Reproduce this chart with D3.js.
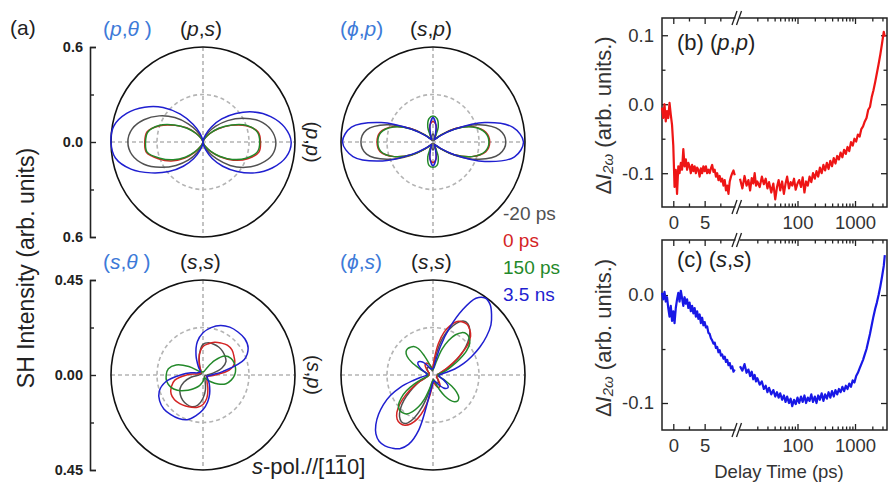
<!DOCTYPE html>
<html><head><meta charset="utf-8">
<script src="https://cdn.jsdelivr.net/npm/d3@7"></script>
<style>
body{margin:0;background:#fff}
svg{display:block}
text{font-family:'Liberation Sans',Arial,Helvetica,sans-serif}
</style></head>
<body><svg id="c" width="888" height="484"></svg>
<script>
// ---------------- DATA ----------------
const seriesLabels = ["-20 ps", "0 ps", "150 ps", "3.5 ns"];
// polar radii, evenly spaced in angle (counter-clockwise from 0°)
// (p,θ) panel, 10° steps
const pTheta_m20 = [0.475,0.45,0.39,0.3,0.21,0.13,0.07,0.025,0.005,0,0.005,0.03,0.08,0.15,0.24,0.33,0.41,0.47,0.49,0.47,0.41,0.32,0.23,0.15,0.08,0.03,0.005,0,0.005,0.03,0.075,0.14,0.23,0.32,0.4,0.46];
const pTheta_0 = [0.375,0.365,0.3,0.21,0.13,0.07,0.03,0.01,0,0,0,0.01,0.03,0.075,0.14,0.21,0.3,0.37,0.38,0.375,0.31,0.24,0.16,0.085,0.035,0.01,0,0,0,0.01,0.035,0.08,0.145,0.23,0.31,0.37];
const pTheta_150 = [0.37,0.36,0.305,0.215,0.135,0.07,0.03,0.01,0,0,0,0.01,0.03,0.07,0.135,0.215,0.305,0.365,0.375,0.37,0.3,0.225,0.15,0.08,0.035,0.01,0,0,0,0.01,0.035,0.075,0.14,0.22,0.3,0.36];
const pTheta_3500 = [0.575,0.54,0.47,0.38,0.28,0.19,0.11,0.05,0.015,0,0.015,0.06,0.13,0.23,0.34,0.44,0.53,0.59,0.6,0.58,0.5,0.39,0.29,0.2,0.12,0.055,0.015,0,0.015,0.055,0.12,0.2,0.29,0.39,0.48,0.55];
// (ϕ,p) panel, 10° steps
const phiP_m20 = [0.475,0.44,0.32,0.17,0.07,0.025,0.01,0.02,0.04,0.05,0.04,0.02,0.01,0.025,0.07,0.17,0.32,0.44,0.47,0.44,0.32,0.17,0.07,0.025,0.01,0.02,0.04,0.05,0.04,0.02,0.01,0.025,0.07,0.17,0.32,0.44];
const phiP_0 = [0.37,0.35,0.28,0.17,0.07,0.03,0.025,0.06,0.11,0.13,0.11,0.06,0.025,0.03,0.07,0.17,0.28,0.35,0.365,0.35,0.27,0.16,0.065,0.03,0.025,0.06,0.11,0.13,0.11,0.06,0.025,0.03,0.065,0.16,0.27,0.35];
const phiP_150 = [0.365,0.345,0.275,0.165,0.07,0.03,0.03,0.1,0.15,0.165,0.15,0.1,0.03,0.03,0.07,0.165,0.275,0.345,0.36,0.345,0.27,0.16,0.065,0.03,0.03,0.1,0.15,0.16,0.15,0.1,0.03,0.03,0.065,0.16,0.27,0.345];
const phiP_3500 = [0.59,0.53,0.36,0.16,0.06,0.025,0.02,0.045,0.11,0.155,0.11,0.045,0.02,0.025,0.06,0.16,0.36,0.54,0.59,0.53,0.35,0.15,0.055,0.025,0.02,0.045,0.11,0.15,0.11,0.045,0.02,0.025,0.06,0.16,0.36,0.54];
// (s,θ) panel, 10° steps
const sTheta_m20 = [0.02,0.05,0.1,0.13,0.14,0.148,0.153,0.155,0.155,0.145,0.1,0.05,0.02,0.01,0.01,0.01,0.01,0.015,0.02,0.06,0.1,0.13,0.145,0.155,0.16,0.16,0.145,0.11,0.07,0.03,0.015,0.01,0.01,0.01,0.01,0.015];
const sTheta_0 = [0.06,0.13,0.165,0.175,0.185,0.185,0.175,0.165,0.15,0.135,0.1,0.05,0.02,0.015,0.015,0.015,0.02,0.03,0.08,0.14,0.165,0.18,0.182,0.177,0.17,0.163,0.155,0.14,0.11,0.07,0.04,0.03,0.025,0.02,0.02,0.03];
const sTheta_150 = [0.155,0.162,0.163,0.158,0.14,0.09,0.04,0.02,0.015,0.015,0.015,0.015,0.02,0.02,0.03,0.08,0.14,0.172,0.18,0.18,0.168,0.145,0.115,0.09,0.07,0.055,0.04,0.03,0.02,0.015,0.015,0.025,0.05,0.085,0.12,0.14];
const sTheta_3500 = [0.04,0.1,0.215,0.255,0.267,0.266,0.262,0.25,0.228,0.2,0.16,0.1,0.045,0.02,0.02,0.025,0.03,0.06,0.11,0.185,0.228,0.245,0.25,0.245,0.238,0.225,0.195,0.165,0.13,0.095,0.065,0.045,0.03,0.025,0.02,0.025];
// (ϕ,s) panel, 5° steps
const phiS_m20 = [0.02,0.02,0.025,0.035,0.05,0.08,0.12,0.165,0.21,0.25,0.28,0.297,0.295,0.27,0.23,0.18,0.11,0.05,
  0.025,0.02,0.02,0.025,0.03,0.035,0.04,0.045,0.045,0.04,0.035,0.03,0.025,0.02,0.02,0.02,0.02,0.02,
  0.02,0.02,0.025,0.03,0.04,0.07,0.1,0.14,0.185,0.225,0.255,0.27,0.265,0.23,0.17,0.1,0.05,0.03,
  0.025,0.02,0.025,0.03,0.035,0.04,0.045,0.045,0.04,0.035,0.03,0.025,0.02,0.02,0.02,0.02,0.02,0.02];
const phiS_0 = [0.025,0.025,0.03,0.035,0.045,0.07,0.11,0.16,0.22,0.26,0.28,0.292,0.29,0.28,0.25,0.21,0.15,0.08,
  0.04,0.03,0.035,0.045,0.055,0.06,0.065,0.065,0.06,0.05,0.04,0.03,0.025,0.02,0.02,0.02,0.02,0.02,
  0.02,0.02,0.025,0.03,0.04,0.07,0.11,0.16,0.21,0.25,0.273,0.28,0.275,0.255,0.22,0.17,0.11,0.06,
  0.04,0.035,0.04,0.05,0.06,0.065,0.065,0.06,0.05,0.04,0.03,0.025,0.02,0.02,0.02,0.02,0.02,0.025];
const phiS_150 = [0.025,0.025,0.03,0.05,0.075,0.105,0.15,0.2,0.235,0.25,0.255,0.245,0.22,0.18,0.13,0.07,0.04,0.03,
  0.025,0.025,0.03,0.04,0.06,0.1,0.145,0.165,0.172,0.176,0.172,0.155,0.12,0.075,0.045,0.03,0.025,0.025,
  0.025,0.025,0.025,0.03,0.06,0.1,0.15,0.19,0.22,0.233,0.233,0.225,0.2,0.165,0.12,0.07,0.04,0.03,
  0.025,0.025,0.025,0.03,0.05,0.08,0.115,0.145,0.165,0.172,0.165,0.14,0.105,0.07,0.045,0.03,0.025,0.025];
const phiS_3500 = [0.03,0.04,0.06,0.11,0.16,0.21,0.265,0.32,0.37,0.405,0.435,0.445,0.42,0.34,0.24,0.14,0.06,0.035,
  0.03,0.03,0.03,0.03,0.03,0.04,0.05,0.065,0.08,0.09,0.095,0.09,0.075,0.06,0.045,0.035,0.03,0.03,
  0.03,0.035,0.06,0.1,0.17,0.23,0.28,0.325,0.365,0.395,0.41,0.41,0.4,0.385,0.35,0.27,0.09,0.05,
  0.035,0.03,0.03,0.03,0.035,0.04,0.05,0.065,0.08,0.09,0.095,0.09,0.075,0.06,0.045,0.035,0.03,0.03];

// delay-time traces
const delayLin = [-1.8,-1.6,-1.4,-1.2,-1,-0.8,-0.6,-0.4,-0.2,0,0.2,0.4,0.6,0.8,1,1.2,1.4,1.6,1.8,2,2.2,2.4,2.6,2.8,3,3.2,3.4,3.6,3.8,4,4.2,4.4,4.6,4.8,5,5.2,5.4,5.6,5.8,6,6.2,6.4,6.6,6.8,7,7.2,7.4,7.6,7.8,8,8.2,8.4,8.6,8.8,9,9.2,9.4,9.6,9.8];
const delayLog = [10,11,12,13,14,15,16,17,18,19,20,22,24,26,28,30,32,35,38,41,44,47,50,54,58,62,66,71,76,81,87,93,100,107,115,123,132,141,151,162,174,186,200,214,229,245,263,282,302,324,347,372,398,427,457,490,525,562,603,646,692,741,794,851,912,977,1047,1122,1202,1288,1380,1479,1585,1698,1820,1950,2089,2239,2399,2570,2754,2951,3162,3300];
const ppLin = [-0.005,-0.02,0.0,-0.025,-0.01,-0.02,0.002,-0.015,-0.03,-0.06,-0.12,-0.095,-0.13,-0.09,-0.1,-0.085,-0.095,-0.065,-0.09,-0.08,-0.095,-0.085,-0.09,-0.1,-0.088,-0.097,-0.09,-0.1,-0.092,-0.095,-0.105,-0.093,-0.1,-0.09,-0.097,-0.09,-0.1,-0.095,-0.1,-0.093,-0.088,-0.098,-0.095,-0.105,-0.1,-0.11,-0.104,-0.112,-0.108,-0.118,-0.11,-0.125,-0.118,-0.13,-0.112,-0.105,-0.1,-0.096,-0.103];
const ppLog = [-0.108,-0.122,-0.104,-0.118,-0.11,-0.125,-0.107,-0.115,-0.1,-0.118,-0.112,-0.12,-0.105,-0.116,-0.108,-0.122,-0.113,-0.128,-0.115,-0.138,-0.12,-0.11,-0.125,-0.112,-0.13,-0.115,-0.105,-0.122,-0.113,-0.118,-0.108,-0.124,-0.115,-0.11,-0.12,-0.106,-0.128,-0.112,-0.118,-0.105,-0.113,-0.1,-0.108,-0.097,-0.105,-0.092,-0.1,-0.088,-0.096,-0.085,-0.094,-0.082,-0.09,-0.078,-0.086,-0.075,-0.08,-0.07,-0.077,-0.066,-0.072,-0.062,-0.068,-0.055,-0.06,-0.05,-0.054,-0.044,-0.047,-0.036,-0.032,-0.025,-0.02,-0.008,-0.004,0.01,0.02,0.032,0.045,0.058,0.072,0.088,0.105,0.098];
const ssLin = [0.002,-0.004,0.003,-0.006,-0.002,-0.012,-0.02,-0.01,-0.024,-0.015,-0.026,-0.012,-0.004,0.002,-0.006,0.004,-0.003,-0.01,-0.002,-0.008,-0.004,-0.012,-0.007,-0.015,-0.01,-0.017,-0.012,-0.02,-0.015,-0.022,-0.018,-0.026,-0.021,-0.028,-0.025,-0.03,-0.029,-0.035,-0.036,-0.04,-0.042,-0.045,-0.044,-0.049,-0.048,-0.053,-0.051,-0.056,-0.055,-0.059,-0.057,-0.062,-0.06,-0.065,-0.063,-0.068,-0.066,-0.071,-0.069];
const ssLog = [-0.066,-0.07,-0.064,-0.072,-0.069,-0.075,-0.071,-0.078,-0.074,-0.08,-0.077,-0.083,-0.08,-0.087,-0.084,-0.09,-0.086,-0.092,-0.088,-0.094,-0.09,-0.095,-0.091,-0.097,-0.093,-0.099,-0.094,-0.1,-0.096,-0.103,-0.097,-0.101,-0.095,-0.1,-0.094,-0.099,-0.093,-0.1,-0.095,-0.098,-0.092,-0.099,-0.094,-0.1,-0.093,-0.097,-0.091,-0.098,-0.092,-0.096,-0.09,-0.095,-0.089,-0.094,-0.088,-0.092,-0.087,-0.09,-0.085,-0.089,-0.084,-0.087,-0.082,-0.085,-0.079,-0.081,-0.075,-0.072,-0.068,-0.064,-0.06,-0.055,-0.05,-0.043,-0.036,-0.028,-0.02,-0.013,-0.007,0.0,0.008,0.017,0.027,0.037];
const linTicks = [0, 5], linMinor = [2.5, 7.5];
const logTicks = [100, 1000], logMinor = [20,30,40,50,60,70,80,90,200,300,400,500,600,700,800,900,2000,3000];

// ---------------- STYLE ----------------
const svg = d3.select("#c");
const curveColors = ["#505050", "#d42424", "#23892a", "#1f1fd0"];
const titleBlue = "#3d7ad8";
const ink = "#222";

function polar(cx, cy, rMax, sets) {
  const rx = 92, ry = 95;
  const g = svg.append("g");
  const sx = d3.scaleLinear().domain([0, rMax]).range([0, rx]);
  const sy = d3.scaleLinear().domain([0, rMax]).range([0, ry]);
  const dash = {stroke: "#b4b4b4", "stroke-width": 1.6, "stroke-dasharray": "4,3", fill: "none"};
  const ap = (sel, o) => { for (const k in o) sel.attr(k, o[k]); return sel; };
  ap(g.append("line").attr("x1", cx - sx(rMax)).attr("x2", cx + sx(rMax)).attr("y1", cy).attr("y2", cy), dash);
  ap(g.append("line").attr("x1", cx).attr("x2", cx).attr("y1", cy - sy(rMax)).attr("y2", cy + sy(rMax)), dash);
  ap(g.append("ellipse").attr("cx", cx).attr("cy", cy).attr("rx", sx(rMax / 2)).attr("ry", sy(rMax / 2)), dash);
  g.append("ellipse").attr("cx", cx).attr("cy", cy).attr("rx", sx(rMax)).attr("ry", sy(rMax))
    .attr("fill", "none").attr("stroke", "#111").attr("stroke-width", 1.6);
  const line = d3.line().curve(d3.curveCatmullRomClosed.alpha(0.5));
  sets.forEach((vals, k) => {
    const n = vals.length;
    const pts = vals.map((r, i) => {
      const a = i * 2 * Math.PI / n;
      return [cx + sx(r) * Math.cos(a), cy - sy(r) * Math.sin(a)];
    });
    g.append("path").attr("d", line(pts)).attr("fill", "none")
      .attr("stroke", curveColors[k]).attr("stroke-width", 1.5).attr("stroke-linejoin", "round");
  });
}

function polarAxis(x, cy, rMax, fmt) {
  const ry = 95;
  const y = d3.scaleLinear().domain([-rMax, rMax]).range([cy + ry, cy - ry]);
  const g = svg.append("g").attr("transform", `translate(${x},0)`);
  g.call(d3.axisLeft(y).tickValues([-rMax, 0, rMax]).tickSize(-6).tickPadding(7)
    .tickFormat(d => Math.abs(d).toFixed(fmt)));
  g.append("g").call(d3.axisLeft(y).tickValues([-rMax / 2, rMax / 2]).tickSize(-4).tickFormat(""))
    .select(".domain").remove();
  g.selectAll("path.domain").attr("stroke", ink).attr("stroke-width", 1.6);
  g.selectAll("line").attr("stroke", ink).attr("stroke-width", 1.4);
  g.selectAll("text").attr("font-size", 14.5).attr("font-weight", "bold").attr("fill", ink)
    .style("font-family", "'Liberation Sans',Arial,sans-serif");
}

function rich(x, y, parts, size, anchor) {
  const t = svg.append("text").attr("x", x).attr("y", y).attr("font-size", size)
    .attr("text-anchor", anchor || "start");
  parts.forEach(p => {
    const s = t.append("tspan").text(p[0]);
    if (p[1]) s.attr("font-style", "italic");
    s.attr("fill", p[2] || ink);
  });
  return t;
}

// ----- polar panels -----
polar(203, 142, 0.6, [pTheta_m20, pTheta_0, pTheta_150, pTheta_3500]);
polar(433, 142, 0.6, [phiP_m20, phiP_0, phiP_150, phiP_3500]);
polar(203, 375, 0.45, [sTheta_m20, sTheta_0, sTheta_150, sTheta_3500]);
polar(433, 375, 0.45, [phiS_m20, phiS_0, phiS_150, phiS_3500]);
polarAxis(90, 142, 0.6, 1);
polarAxis(90, 375, 0.45, 2);

// titles
rich(10, 35, [["(a)"]], 21);
rich(103, 36, [["(", 0, titleBlue], ["p", 1, titleBlue], [",", 0, titleBlue], ["θ", 1, titleBlue], [" )", 0, titleBlue]], 21);
rich(180, 36, [["("], ["p", 1], [","], ["s", 1], [")"]], 21);
rich(340, 36, [["(", 0, titleBlue], ["ϕ", 1, titleBlue], [",", 0, titleBlue], ["p", 1, titleBlue], [")", 0, titleBlue]], 21);
rich(410, 36, [["("], ["s", 1], [","], ["p", 1], [")"]], 21);
rich(103, 269, [["(", 0, titleBlue], ["s", 1, titleBlue], [",", 0, titleBlue], ["θ", 1, titleBlue], [" )", 0, titleBlue]], 21);
rich(180, 269, [["("], ["s", 1], [","], ["s", 1], [")"]], 21);
rich(340, 269, [["(", 0, titleBlue], ["ϕ", 1, titleBlue], [",", 0, titleBlue], ["s", 1, titleBlue], [")", 0, titleBlue]], 21);
rich(411, 269, [["("], ["s", 1], [","], ["s", 1], [")"]], 21);

// rotated 0° labels
rich(0, 0, [["("], ["p", 1], [","], ["p", 1], [")"]], 20, "middle")
  .attr("transform", "translate(313,142) rotate(90)").attr("dominant-baseline", "central");
rich(0, 0, [["("], ["s", 1], [","], ["p", 1], [")"]], 20, "middle")
  .attr("transform", "translate(314,375) rotate(90)").attr("dominant-baseline", "central");

// SH intensity title
svg.append("text").attr("transform", "translate(26,268) rotate(-90)").attr("text-anchor", "middle")
  .attr("dominant-baseline", "central").attr("font-size", 23).attr("fill", ink)
  .text("SH Intensity (arb. units)");

// s-pol label with overbar
const sp = rich(252, 474, [["s", 1], ["-pol.//[1"], ["1"], ["0]"]], 22);
{
  const node = sp.node();
  const idx = "s-pol.//[1".length;
  const a = node.getStartPositionOfChar(idx), b = node.getEndPositionOfChar(idx);
  svg.append("line").attr("x1", a.x + 1).attr("x2", b.x - 1).attr("y1", 474 - 18).attr("y2", 474 - 18)
    .attr("stroke", ink).attr("stroke-width", 1.5);
}

// legend
seriesLabels.forEach((s, i) => {
  svg.append("text").attr("x", 503).attr("y", 220 + i * 27).attr("font-size", 19)
    .attr("fill", curveColors[i]).text(s);
});

// ----- delay panels -----
const xL = d3.scaleLinear().domain([-1.8, 10]).range([662, 736]);
const xG = d3.scaleLog().domain([10, 3600]).range([740, 887]);

function delayPanel(top, bottom, yDom, yMajor, yMinor, lin, lg, color, lab, labY) {
  const y = d3.scaleLinear().domain(yDom).range([bottom, top]);
  const g = svg.append("g");
  const styleAxis = sel => {
    sel.select(".domain").remove();
    sel.selectAll("line").attr("stroke", ink).attr("stroke-width", 1.3);
    sel.selectAll("text").attr("font-size", 18.5).attr("fill", "#333")
      .style("font-family", "'Liberation Sans',Arial,sans-serif");
  };
  // bottom
  g.append("g").attr("transform", `translate(0,${bottom})`)
    .call(d3.axisBottom(xL).tickValues(linTicks).tickSize(-6).tickPadding(9).tickFormat(d3.format("d"))).call(styleAxis);
  g.append("g").attr("transform", `translate(0,${bottom})`)
    .call(d3.axisBottom(xL).tickValues(linMinor).tickSize(-3.5).tickFormat("")).call(styleAxis);
  g.append("g").attr("transform", `translate(0,${bottom})`)
    .call(d3.axisBottom(xG).tickValues(logTicks).tickSize(-6).tickPadding(9).tickFormat(d3.format("d"))).call(styleAxis);
  g.append("g").attr("transform", `translate(0,${bottom})`)
    .call(d3.axisBottom(xG).tickValues(logMinor).tickSize(-3.5).tickFormat("")).call(styleAxis);
  // top
  [[xL, linTicks, 6], [xL, linMinor, 3.5], [xG, logTicks, 6], [xG, logMinor, 3.5]].forEach(([sc, tv, sz]) => {
    g.append("g").attr("transform", `translate(0,${top})`)
      .call(d3.axisTop(sc).tickValues(tv).tickSize(-sz).tickFormat("")).call(styleAxis);
  });
  // left / right
  g.append("g").attr("transform", "translate(662,0)")
    .call(d3.axisLeft(y).tickValues(yMajor).tickSize(-6).tickPadding(8).tickFormat(d => d.toFixed(1))).call(styleAxis);
  g.append("g").attr("transform", "translate(662,0)")
    .call(d3.axisLeft(y).tickValues(yMinor).tickSize(-3.5).tickFormat("")).call(styleAxis);
  g.append("g").attr("transform", "translate(887,0)")
    .call(d3.axisRight(y).tickValues(yMajor).tickSize(-6).tickFormat("")).call(styleAxis);
  g.append("g").attr("transform", "translate(887,0)")
    .call(d3.axisRight(y).tickValues(yMinor).tickSize(-3.5).tickFormat("")).call(styleAxis);
  // frame
  g.append("rect").attr("x", 662).attr("y", top).attr("width", 225).attr("height", bottom - top)
    .attr("fill", "none").attr("stroke", ink).attr("stroke-width", 1.5);
  // break marks
  [top, bottom].forEach(yy => {
    g.append("rect").attr("x", 735.5).attr("y", yy - 2).attr("width", 4).attr("height", 4).attr("fill", "#fff");
    [734.5, 739].forEach(xx => {
      g.append("line").attr("x1", xx - 2.5).attr("y1", yy + 7).attr("x2", xx + 2.5).attr("y2", yy - 7)
        .attr("stroke", ink).attr("stroke-width", 1.3);
    });
  });
  // data
  const lineLin = d3.line().x(d => xL(d[0])).y(d => y(d[1]));
  const lineLog = d3.line().x(d => xG(d[0])).y(d => y(d[1]));
  g.append("path").attr("d", lineLin(delayLin.map((t, i) => [t, lin[i]])))
    .attr("fill", "none").attr("stroke", color).attr("stroke-width", 2.2).attr("stroke-linejoin", "round");
  g.append("path").attr("d", lineLog(delayLog.map((t, i) => [t, lg[i]])))
    .attr("fill", "none").attr("stroke", color).attr("stroke-width", 2.2).attr("stroke-linejoin", "round");
  // label
  rich(677, labY, lab, 22);
  // y title
  const t = svg.append("text").attr("transform", `translate(603,${(top + bottom) / 2 + 3}) rotate(-90)`)
    .attr("text-anchor", "middle").attr("dominant-baseline", "central").attr("font-size", 22).attr("fill", "#333");
  t.append("tspan").text("Δ");
  t.append("tspan").attr("font-style", "italic").text("I");
  t.append("tspan").attr("font-style", "italic").attr("font-size", 15).attr("dy", 4).text("2ω");
  t.append("tspan").attr("dy", -4).text(" (arb. units.)");
}

delayPanel(18, 207, [-0.149, 0.125], [0.1, 0, -0.1], [0.05, -0.05], ppLin, ppLog, "#ee1515",
  [["(b) ("], ["p", 1], [","], ["p", 1], [")"]], 50);
delayPanel(240, 430, [-0.125, 0.051], [0, -0.1], [-0.05], ssLin, ssLog, "#1818e6",
  [["(c) ("], ["s", 1], [","], ["s", 1], [")"]], 267);

svg.append("text").attr("x", 779).attr("y", 478).attr("text-anchor", "middle").attr("font-size", 18.5)
  .attr("fill", "#333").text("Delay Time (ps)");
</script>
</body></html>
